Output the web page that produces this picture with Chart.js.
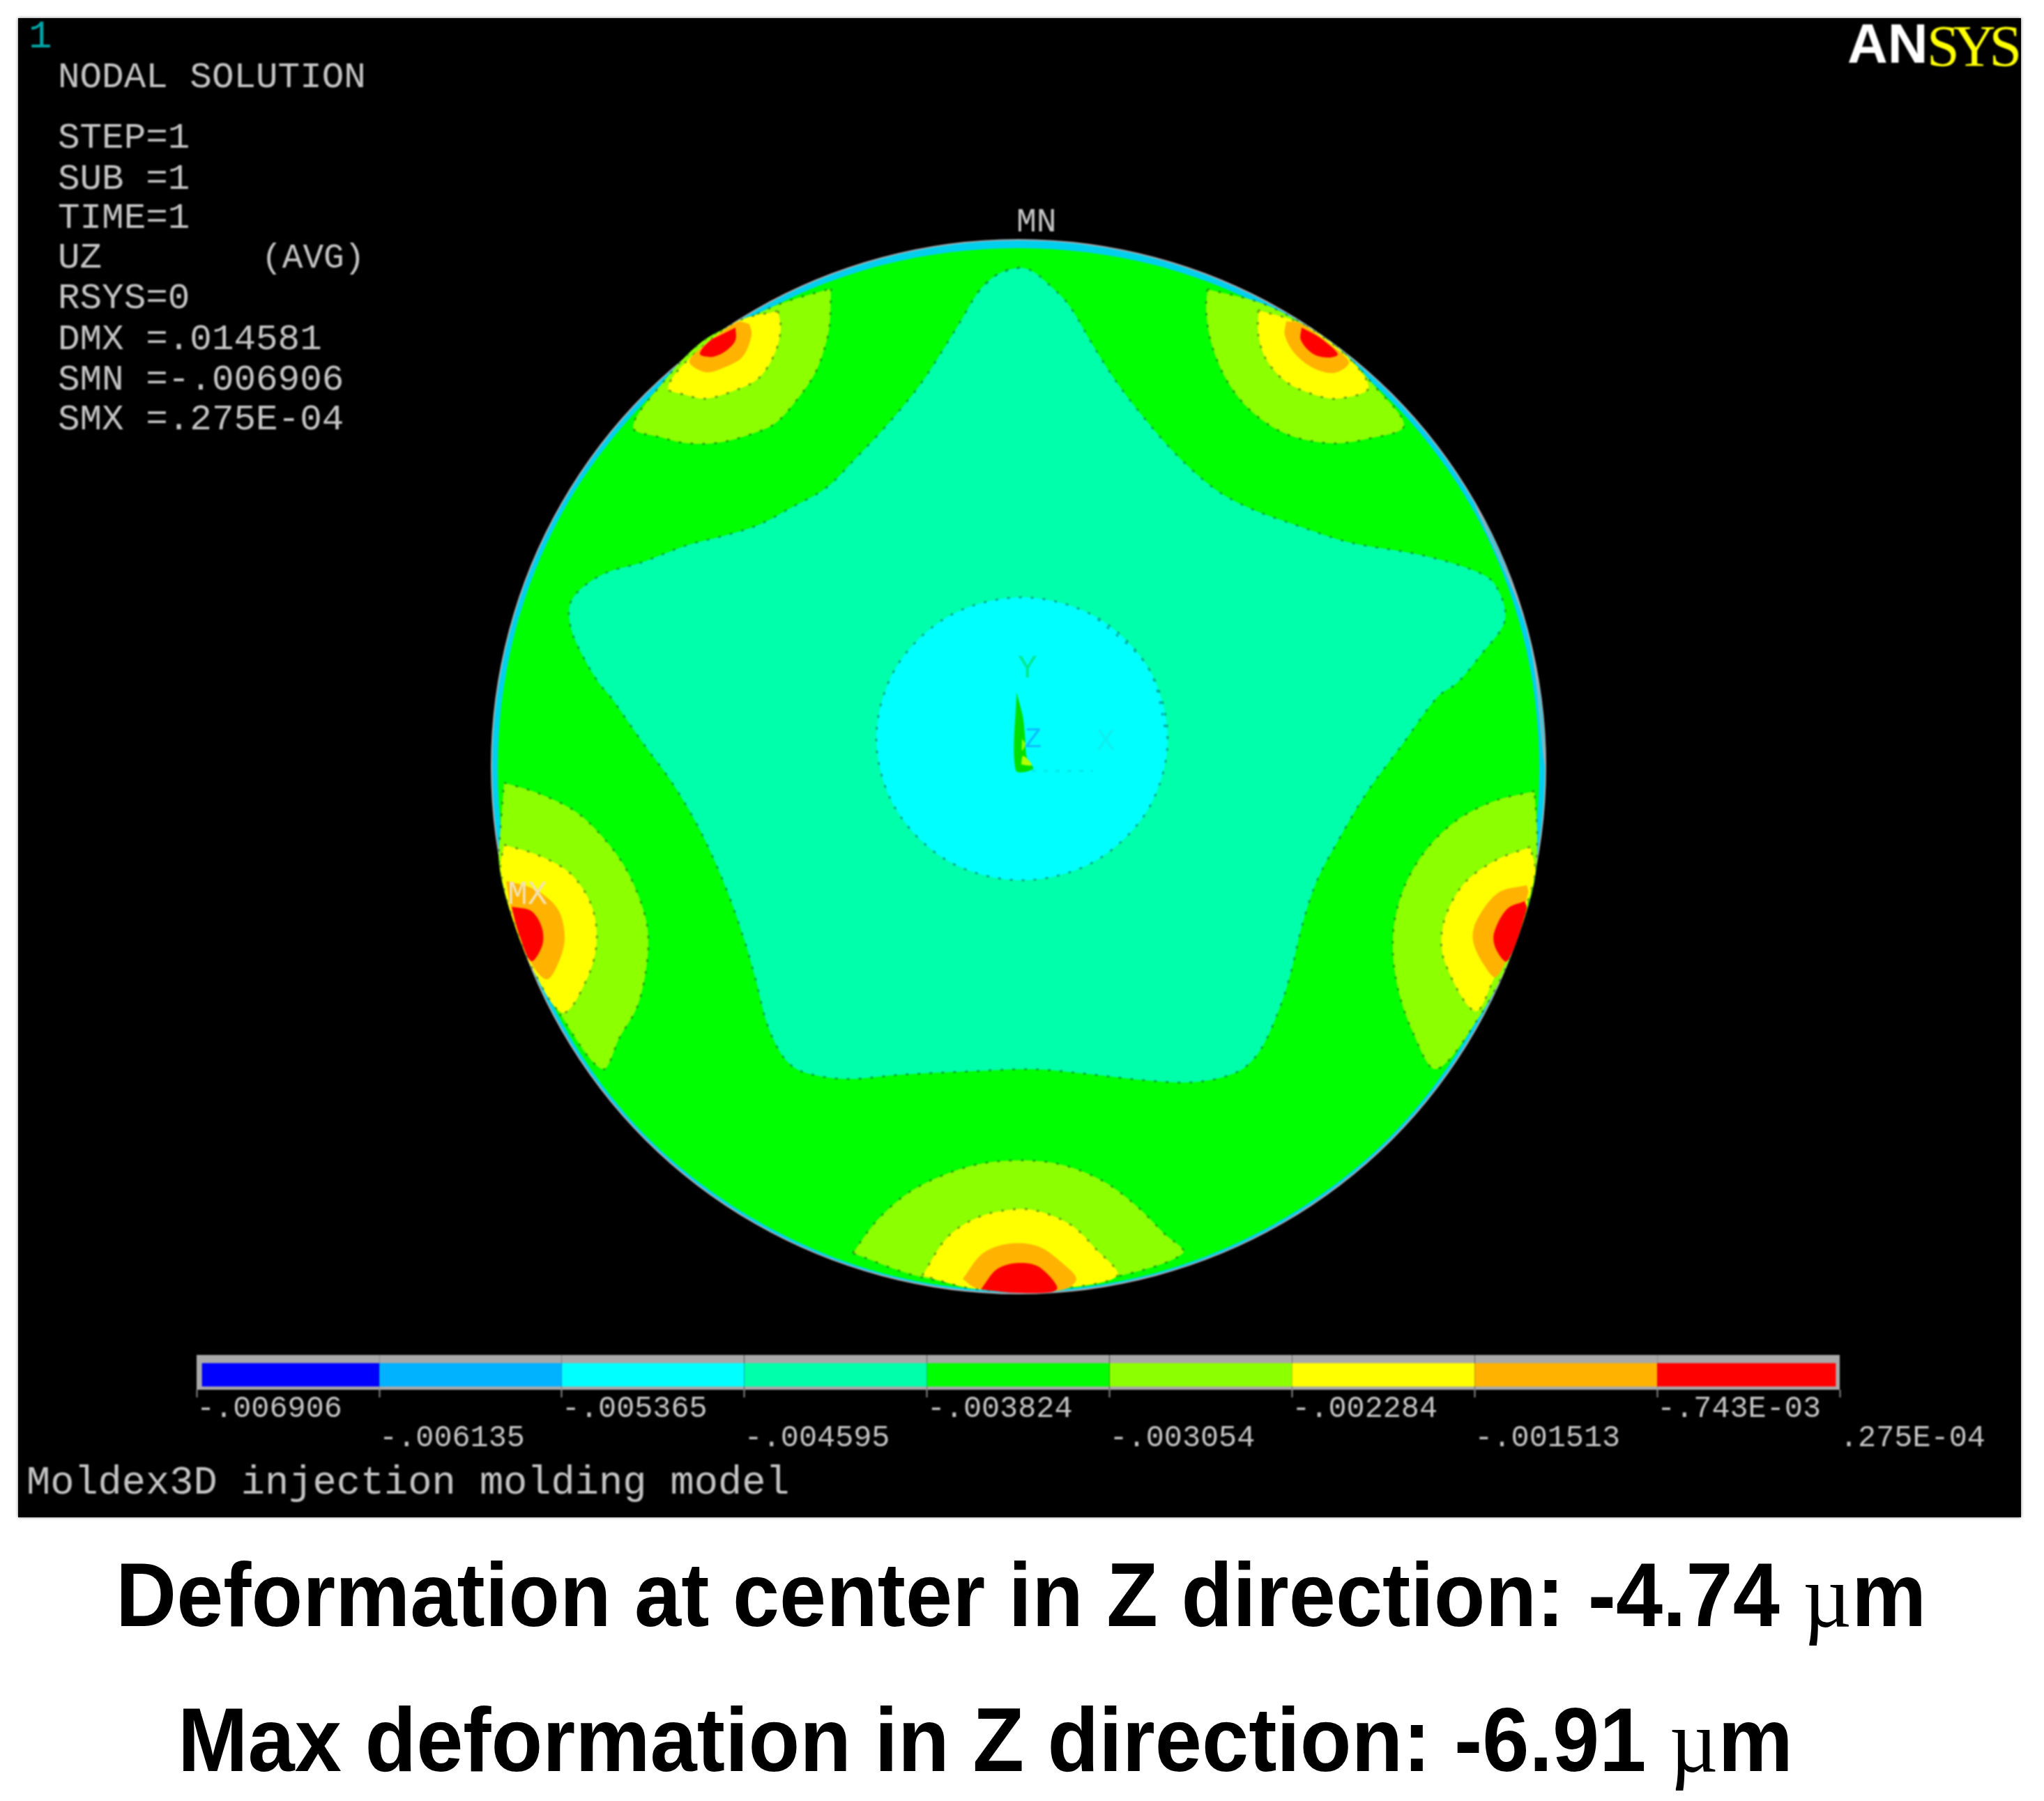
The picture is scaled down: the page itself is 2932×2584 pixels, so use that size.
<!DOCTYPE html>
<html>
<head>
<meta charset="utf-8">
<title>Moldex3D injection molding model</title>
<script src="https://cdn.jsdelivr.net/npm/chart.js@4"></script>
<style>
  html, body { margin: 0; padding: 0; background: #fff; }
  #page { position: relative; width: 2932px; height: 2584px; overflow: hidden; }
  #panel { position: absolute; left: 26px; top: 26px; width: 2873px; height: 2151px; background: #000; box-shadow: 0 0 4px #777; }
  canvas { position: absolute; filter: blur(1.2px); }
  .t { position: absolute; white-space: pre; line-height: 1; }
  .mono { font-family: "Liberation Mono", monospace; color: #c4c4c4; filter: blur(0.8px); }
  .note { font-family: "Liberation Sans", Arial, sans-serif; font-weight: bold; font-size: 130px; color: #000; transform-origin: 0 0; }
  .note span { font-family: "Liberation Serif", serif; font-weight: normal; }
</style>
</head>
<body>
<div id="page">
  <div id="panel"></div>
  <canvas id="contour-area" width="2932" height="2584" style="left:0;top:0"></canvas>
  <canvas id="legend-area" width="2932" height="140" style="left:0;top:1944px"></canvas>
  <div class="t" style="left:2650px;top:17px;font:bold 80px 'Liberation Sans';color:#fff;filter:blur(1px)">AN</div>
  <div class="t" style="left:2764px;top:18px;font:84px 'Liberation Serif';letter-spacing:-9px;color:#ffff00;filter:blur(1px)">SYS</div>
</div>
<script>
// contour levels of UZ, and the colour of the band above each level
const levels = [-0.006906, -0.006135, -0.005365, -0.004595, -0.003824, -0.003054, -0.002284, -0.001513, -0.000743, 0.0000275];
const levelLabels = ["-.006906", "-.006135", "-.005365", "-.004595", "-.003824", "-.003054", "-.002284", "-.001513", "-.743E-03", ".275E-04"];
const bandColors = ["#0000ff", "#00b2ff", "#00ffff", "#00ffaa", "#00ff00", "#8cff00", "#ffff00", "#ffb200", "#ff0000"];

// text block top left, and its baselines
const panelLines = ["NODAL SOLUTION", "STEP=1", "SUB =1", "TIME=1", "UZ", "RSYS=0", "DMX =.014581", "SMN =-.006906", "SMX =.275E-04"];
const panelBaselines = [125, 212, 271, 327, 384, 442, 501, 559, 616];

// contour outlines, in the picture's own x / y units
const rim = [[2217,1100],[2191,904],[2116,722],[1996,565],[1839,445],[1657,370],[1461,344],[1265,370],[1083,445],[926,565],[806,722],[731,904],[705,1100],[731,1296],[806,1478],[926,1635],[1083,1755],[1265,1830],[1461,1856],[1657,1830],[1839,1755],[1996,1635],[2116,1478],[2191,1296]];
const greenDisc = [[2208,1105],[2184,910],[2111,728],[1992,572],[1837,453],[1655,380],[1461,356],[1267,380],[1085,453],[930,572],[811,728],[738,910],[714,1105],[739,1298],[813,1479],[931,1634],[1087,1752],[1267,1827],[1461,1852],[1655,1827],[1835,1752],[1991,1634],[2109,1479],[2183,1298]];
const star = [[1462,384],[1430,394],[1404,418],[1379,459],[1338,525],[1313,561],[1272,610],[1226,659],[1185,700],[1139,726],[1088,753],[1037,769],[986,782],[920,807],[869,822],[833,845],[817,869],[820,905],[838,945],[859,980],[876,1000],[920,1063],[966,1126],[1006,1195],[1042,1276],[1068,1350],[1083,1402],[1101,1471],[1124,1517],[1149,1537],[1211,1548],[1292,1542],[1394,1537],[1480,1534],[1552,1540],[1654,1551],[1720,1552],[1777,1537],[1807,1508],[1833,1453],[1850,1402],[1868,1327],[1889,1264],[1919,1207],[1960,1138],[2011,1069],[2062,1000],[2090,980],[2123,941],[2159,889],[2144,838],[2113,818],[2037,796],[1935,778],[1858,753],[1797,731],[1746,704],[1690,655],[1639,597],[1598,543],[1567,494],[1532,436],[1501,405],[1481,389]];
const centerCircle = [[1675,1060],[1647,958],[1570,884],[1466,857],[1361,884],[1285,958],[1257,1060],[1285,1161],[1361,1236],[1466,1263],[1570,1236],[1647,1161]];

const upperLeftLime = [[1192,414],[1190,467],[1183,499],[1170,534],[1149,566],[1114,606],[1083,621],[1032,635],[986,636],[950,628],[908,613],[950,550],[1007,490],[1068,459],[1124,434]];
const upperLeftYellow = [[1116,446],[1120,472],[1111,508],[1088,543],[1052,561],[1012,572],[981,566],[958,557],[986,517],[1058,461]];
const upperLeftOrange = [[1075,465],[1078,481],[1065,512],[1037,528],[1012,534],[989,520],[1001,503],[1058,462]];
const upperLeftRed = [[1055,470],[1055,488],[1042,503],[1022,512],[1004,508],[1017,490],[1037,479]];

const upperRightLime = [[1732,415],[1730,445],[1738,494],[1761,548],[1797,592],[1848,624],[1909,636],[1960,630],[2014,611],[1970,552],[1924,503],[1866,463],[1807,434]];
const upperRightYellow = [[1805,445],[1805,481],[1817,517],[1845,548],[1884,566],[1919,572],[1963,557],[1935,514],[1868,465]];
const upperRightOrange = [[1845,461],[1843,481],[1858,508],[1884,528],[1914,535],[1935,521],[1922,505],[1866,464]];
const upperRightRed = [[1867,470],[1866,488],[1884,508],[1907,513],[1919,508],[1894,485]];

const lowerLeftLime = [[723,1123],[772,1138],[828,1166],[874,1212],[904,1258],[927,1321],[929,1373],[915,1442],[889,1488],[864,1534],[802,1453],[767,1390],[731,1304],[716,1241],[718,1189]];
const lowerLeftYellow = [[723,1212],[772,1227],[818,1253],[848,1298],[856,1350],[843,1402],[808,1453],[767,1396],[736,1321],[718,1247]];
const lowerLeftOrange = [[726,1264],[767,1276],[800,1304],[810,1344],[802,1379],[785,1405],[764,1385],[736,1316]];
const lowerLeftRed = [[734,1301],[762,1307],[777,1330],[778,1356],[762,1379],[744,1339]];

const lowerRightLime = [[2201,1135],[2144,1149],[2088,1178],[2042,1224],[2011,1281],[1998,1344],[2004,1413],[2027,1482],[2060,1534],[2118,1465],[2164,1379],[2200,1270],[2205,1201]];
const lowerRightYellow = [[2195,1215],[2144,1235],[2098,1270],[2070,1327],[2072,1379],[2116,1451],[2144,1402],[2174,1339],[2202,1253]];
const lowerRightOrange = [[2190,1270],[2149,1281],[2118,1321],[2113,1350],[2129,1385],[2146,1402],[2169,1356],[2192,1281]];
const lowerRightRed = [[2187,1293],[2162,1304],[2143,1339],[2146,1362],[2162,1379],[2190,1304]];

const bottomLime = [[1223,1798],[1257,1752],[1302,1712],[1353,1686],[1410,1669],[1475,1665],[1527,1672],[1583,1695],[1629,1729],[1669,1769],[1697,1798],[1600,1832],[1461,1852],[1320,1832]];
const bottomYellow = [[1323,1830],[1359,1775],[1404,1746],[1455,1735],[1491,1738],[1537,1758],[1572,1792],[1603,1830],[1530,1848],[1461,1852],[1390,1848]];
const bottomOrange = [[1381,1835],[1410,1798],[1450,1784],[1491,1789],[1527,1815],[1544,1835],[1527,1850],[1461,1854],[1400,1848]];
const bottomRed = [[1407,1850],[1430,1821],[1461,1812],[1491,1818],[1516,1850],[1461,1855]];

// the little axis triad in the middle
const triadWedge = [[1458,993],[1457,1105],[1482,1103],[1473,1087],[1470,1053],[1467,1027]];
const triadTip = [[1465,1097],[1467,1085],[1473,1088],[1480,1098]];
const triadBlob = [[1466,1060],[1471,1068],[1466,1077]];
const triadXAxis = [[1480,1106],[1568,1106]];

function outlineDataset(points, color, edge, round) {
  let data = points.map(p => ({ x: p[0], y: p[1] }));
  // a round outline runs past its start again, so the curve has no corner there
  let wrap = round ? points.slice(0, 3) : points.slice(0, 1);
  wrap.forEach(p => data.push({ x: p[0], y: p[1] }));
  return {
    data: data,
    showLine: true,
    fill: "shape",
    tension: 0.33,
    pointRadius: 0,
    backgroundColor: color,
    borderColor: edge || color,
    borderWidth: edge ? 3 : 0,
    borderDash: edge ? [4, 13] : [],
  };
}

function drawContours() {
  const dot = "rgba(0,70,50,0.45)";
  const teal = bandColors[3], cyan = bandColors[2], lime = bandColors[5];
  const yellow = bandColors[6], orange = bandColors[7], red = bandColors[8];

  let rimSet = outlineDataset(rim, "#00d0ee", "#a8b0b4", true);
  rimSet.borderDash = [];
  rimSet.borderWidth = 2;
  let layers = [
    rimSet,
    outlineDataset(greenDisc, bandColors[4], null, true),
    outlineDataset(upperLeftLime, lime, dot), outlineDataset(upperLeftYellow, yellow, dot), outlineDataset(upperLeftOrange, orange), outlineDataset(upperLeftRed, red),
    outlineDataset(upperRightLime, lime, dot), outlineDataset(upperRightYellow, yellow, dot), outlineDataset(upperRightOrange, orange), outlineDataset(upperRightRed, red),
    outlineDataset(lowerLeftLime, lime, dot), outlineDataset(lowerLeftYellow, yellow, dot), outlineDataset(lowerLeftOrange, orange), outlineDataset(lowerLeftRed, red),
    outlineDataset(lowerRightLime, lime, dot), outlineDataset(lowerRightYellow, yellow, dot), outlineDataset(lowerRightOrange, orange), outlineDataset(lowerRightRed, red),
    outlineDataset(bottomLime, lime, dot), outlineDataset(bottomYellow, yellow, dot), outlineDataset(bottomOrange, orange), outlineDataset(bottomRed, red),
    outlineDataset(star, teal, dot, true),
    outlineDataset(centerCircle, cyan, dot, true),
    outlineDataset(triadWedge, "#00e000"),
    outlineDataset(triadTip, "#b4ff00"),
    outlineDataset(triadBlob, "#90ff00"),
    outlineDataset(triadXAxis, "#00e8e8", "#00e8e8"),
  ];
  // later layers have to paint over the earlier ones
  layers.forEach((l, i) => { l.order = layers.length - i; });

  new Chart(document.getElementById("contour-area"), {
    type: "scatter",
    data: { datasets: layers },
    options: {
      responsive: false,
      animation: false,
      layout: { padding: 0 },
      plugins: { legend: { display: false }, tooltip: { enabled: false } },
      scales: {
        x: { type: "linear", min: 0, max: 2932, display: false },
        y: { type: "linear", min: 0, max: 2584, reverse: true, display: false },
      },
    },
  });
}

function drawLegend() {
  const last = bandColors.length - 1;
  let bands = bandColors.map((c, i) => ({
    data: [[levels[i], levels[i + 1]]],
    backgroundColor: c,
    borderColor: "#a9a9a9",
    borderSkipped: false,
    borderWidth: { top: 12, bottom: 5, left: i == 0 ? 8 : 0, right: i == last ? 6 : 0 },
    grouped: false,
    barPercentage: 1,
    categoryPercentage: 1,
  }));

  new Chart(document.getElementById("legend-area"), {
    type: "bar",
    data: { labels: ["UZ"], datasets: bands },
    options: {
      indexAxis: "y",
      responsive: false,
      animation: false,
      layout: { padding: { left: 282, right: 293, top: 0, bottom: 0 } },
      plugins: { legend: { display: false }, tooltip: { enabled: false } },
      scales: {
        y: { display: false },
        x: {
          type: "linear",
          position: "bottom",
          min: levels[0],
          max: levels[levels.length - 1],
          afterBuildTicks: axis => { axis.ticks = levels.map(v => ({ value: v })); },
          afterFit: axis => { axis.height = 90; },
          border: { display: false },
          grid: { drawOnChartArea: false, tickLength: 11, tickColor: "#8a8a8a", tickWidth: 2 },
          ticks: {
            autoSkip: false,
            maxRotation: 0,
            minRotation: 0,
            align: "start",
            padding: -4,
            color: "#c4c4c4",
            font: { family: "'Liberation Mono', monospace", size: 43.5, lineHeight: 0.96 },
            callback: (v, i) => (i % 2 ? ["", levelLabels[i]] : levelLabels[i]),
          },
        },
      },
    },
  });
}

function addText(text, cls, left, top, size, extra) {
  let d = document.createElement("div");
  d.className = "t " + cls;
  d.textContent = text;
  d.style.left = left + "px";
  d.style.top = top + "px";
  if (size) d.style.fontSize = size + "px";
  Object.assign(d.style, extra || {});
  document.getElementById("page").appendChild(d);
  return d;
}

function drawTexts() {
  addText("1", "mono", 41, 25, 56, { color: "#00a6a6" });
  panelLines.forEach((line, i) => addText(line, "mono", 83, panelBaselines[i] - 40, 52.6));
  addText("(AVG)", "mono", 375, 347, 49.5);
  addText("MN", "mono", 1458, 295, 48);
  addText("MX", "mono", 728, 1260, 48, { color: "#f2e2b0" });
  addText("Moldex3D injection molding model", "mono", 38, 2100, 57);
  addText("Y", "mono", 1460, 937, 46, { color: "#00e890" });
  addText("X", "mono", 1573, 1042, 44, { color: "#10eeee" });
  addText("Z", "mono", 1470, 1042, 40, { color: "#10b8ff" });

  let a = addText("", "note", 166, 2223);
  a.innerHTML = 'Deformation at center in Z direction: -4.74 <span>\u00b5</span>m';
  let b = addText("", "note", 255, 2431);
  b.innerHTML = 'Max deformation in Z direction: -6.91 <span>\u00b5</span>m';
  // squeeze the two captions to their width in the picture
  a.style.transform = "scaleX(" + 2597 / a.offsetWidth + ")";
  b.style.transform = "scaleX(" + 2317 / b.offsetWidth + ")";
}

drawContours();
drawLegend();
drawTexts();
</script>
</body>
</html>
